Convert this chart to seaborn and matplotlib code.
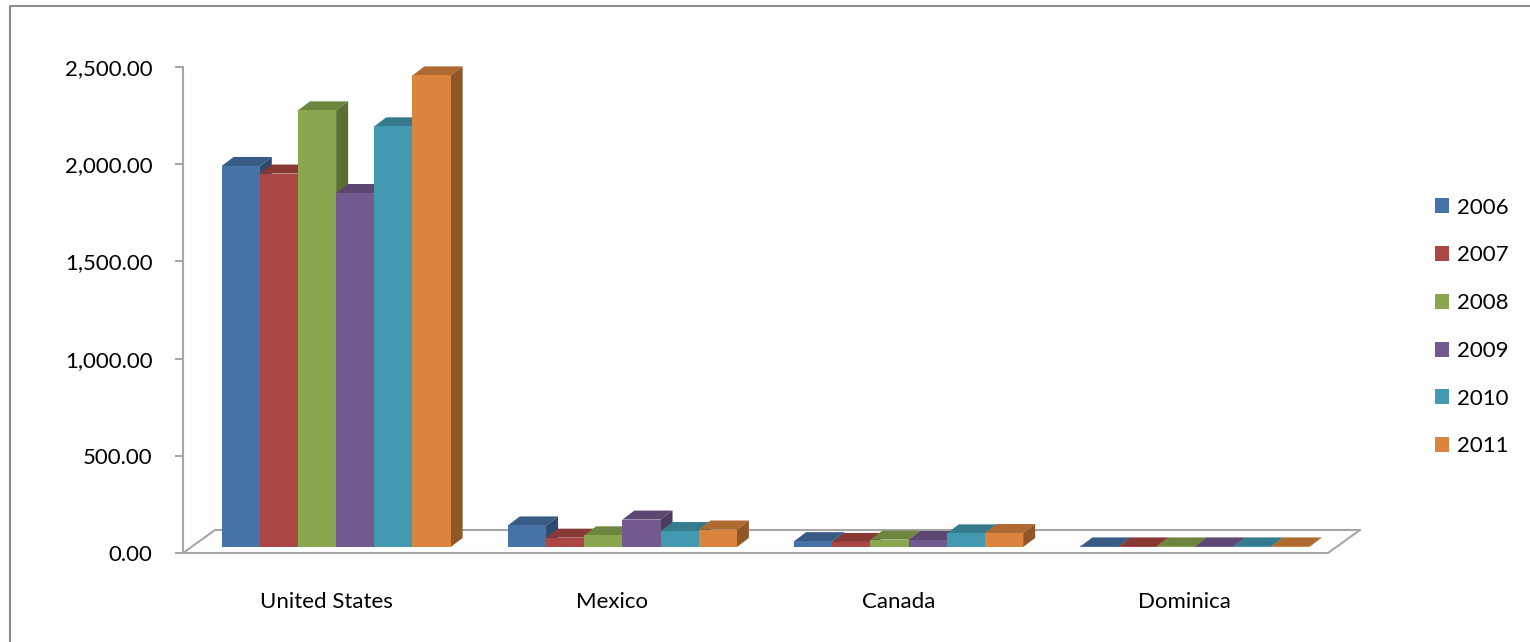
import matplotlib
matplotlib.use('Agg')
import matplotlib.pyplot as plt
import matplotlib.transforms as mtransforms
from matplotlib.patches import Polygon, Patch
from matplotlib.lines import Line2D
from matplotlib.ticker import FuncFormatter
from matplotlib.colors import to_rgb
import seaborn as sns
import pandas as pd

# datos
countries = ['United States', 'Mexico', 'Canada', 'Dominica']
years = ['2006', '2007', '2008', '2009', '2010', '2011']
v2006 = [1960, 111, 30, 3]
v2007 = [1921, 48, 26, 3]
v2008 = [2246, 60, 38, 3]
v2009 = [1821, 141, 36, 3]
v2010 = [2164, 82, 70, 3]
v2011 = [2426, 90, 72, 3]
series = [v2006, v2007, v2008, v2009, v2010, v2011]
colors = ['#4672A8', '#AA4744', '#8AA64F', '#72598F', '#4299B0', '#DB843E']

rows = []
for yr, vals in zip(years, series):
    for c, v in zip(countries, vals):
        rows.append({'country': c, 'year': yr, 'value': v})
df = pd.DataFrame(rows)

sns.set_style('white')
plt.rcParams['font.family'] = ['Lato', 'DejaVu Sans']
plt.rcParams['text.color'] = 'black'
plt.rcParams['xtick.color'] = 'black'
plt.rcParams['ytick.color'] = 'black'

W, H = 1530, 642
fig = plt.figure(figsize=(W / 100, H / 100), dpi=100)
ax = fig.add_axes([183 / W, 1 - 553 / H, (1328 - 183) / W, (553 - 67) / H])

sns.barplot(data=df, x='country', y='value', hue='year', palette=colors,
            saturation=1, width=0.8, gap=0, errorbar=None, legend=False,
            linewidth=0, ax=ax)
ax.set_xlim(-0.5, 3.5)
ax.set_ylim(0, 2500)

# pixeles por unidad de datos
pxx = ax.transData.transform((1, 0))[0] - ax.transData.transform((0, 0))[0]
pxy = ax.transData.transform((0, 1))[1] - ax.transData.transform((0, 0))[1]
sx, sy = 10 / pxx, 6 / pxy      # desplazamiento de las barras (profundidad media)
ddx, ddy = 12 / pxx, 9 / pxy    # profundidad de cada barra

shift = ax.transData + mtransforms.ScaledTranslation(10 / 100, 6 / 100, fig.dpi_scale_trans)


def darker(c, f):
    r, g, b = to_rgb(c)
    return (r * f, g * f, b * f)


for i, cont in enumerate(ax.containers):
    col = colors[i]
    for p in cont:
        p.set_transform(shift)
        p.set_clip_on(False)
        p.set_linewidth(0)
        p.set_edgecolor('none')
        p.set_zorder(2.05 + i * 0.1)
        x0 = p.get_x() + sx
        x1 = x0 + p.get_width()
        top = p.get_height() + sy
        topface = Polygon([(x0, top), (x1, top), (x1 + ddx, top + ddy), (x0 + ddx, top + ddy)],
                          closed=True, facecolor=darker(col, 0.8), edgecolor='none',
                          zorder=2 + i * 0.1, clip_on=False)
        side = Polygon([(x1, sy), (x1, top), (x1 + ddx, top + ddy), (x1 + ddx, sy + ddy)],
                       closed=True, facecolor=darker(col, 0.66), edgecolor='none',
                       zorder=2 + i * 0.1, clip_on=False)
        ax.add_patch(topface)
        ax.add_patch(side)

# suelo 3D
gray = '#A6A6A6'
back = ax.transAxes + mtransforms.ScaledTranslation(32 / 100, 23 / 100, fig.dpi_scale_trans)
ax.add_line(Line2D([0, 1], [0, 0], transform=back, color=gray, lw=1.5, clip_on=False, zorder=1))
fx0, fy0 = ax.transAxes.transform((0, 0))
fx1, _ = ax.transAxes.transform((1, 0))
for fx in (fx0, fx1):
    ax.add_line(Line2D([fx, fx + 32], [fy0, fy0 + 23], transform=mtransforms.IdentityTransform(),
                       color=gray, lw=1.5, clip_on=False, zorder=1))

for s in ['top', 'right']:
    ax.spines[s].set_visible(False)
for s in ['left', 'bottom']:
    ax.spines[s].set_color(gray)
    ax.spines[s].set_linewidth(1.5)

ax.yaxis.set_major_formatter(FuncFormatter(lambda v, pos: '{:,.2f}'.format(v)))
ax.set_yticks([0, 500, 1000, 1500, 2000, 2500])
ax.tick_params(axis='y', left=True, length=6, width=1.5, color=gray, labelcolor='black',
               pad=16, labelsize=16)
ax.tick_params(axis='x', length=0, pad=28, labelsize=16, labelcolor='black')
ax.set_xlabel('')
ax.set_ylabel('')

handles = [Patch(facecolor=c, edgecolor='none') for c in colors]
fig.legend(handles, years, loc='center left', bbox_to_anchor=(1415 / W, 1 - 327 / H),
           frameon=False, handlelength=0.65, handleheight=0.65, handletextpad=0.35,
           labelspacing=1.25, fontsize=16)

# borde del area del grafico (solo izquierda y arriba quedan visibles)
fig.add_artist(Line2D([10 / W, 10 / W, 1.0], [0.0, 1 - 6 / H, 1 - 6 / H],
                      transform=fig.transFigure, color='#8C8C8C', lw=1.5))

fig.savefig('out.png', dpi=100)
